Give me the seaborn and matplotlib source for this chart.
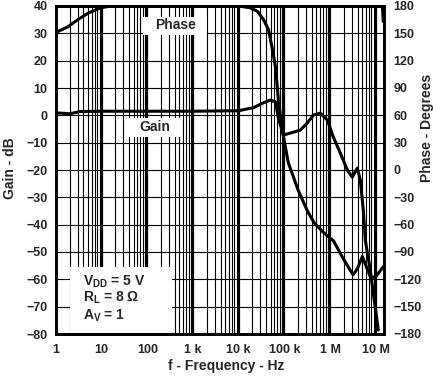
import matplotlib
matplotlib.use("Agg")
import matplotlib.pyplot as plt
from matplotlib.patches import Rectangle
import seaborn as sns
import numpy as np
import pandas as pd

# ---- data ----
gain_freq = [1, 2, 3.5, 10, 100, 1e3, 1e4, 2.1e4, 3.5e4, 4.9e4, 6.4e4, 7.4e4, 9.5e4,
             1.35e5, 2.24e5, 3.19e5, 4.31e5, 6.14e5, 8.73e5, 1.18e6, 1.68e6, 2.39e6,
             3.07e6, 3.96e6, 4.6e6, 5.35e6, 5.92e6, 7.6e6, 1.14e7]
gain_db = [0.9, 0.6, 1.4, 1.5, 1.5, 1.5, 1.7, 2.8, 4.6, 5.6, 4.9, -1.0, -7.2,
           -6.5, -5.4, -2.8, 0.1, 0.8, -1.7, -7.9, -13.8, -20.0,
           -22.6, -19.3, -23.7, -34.6, -45.6, -56.6, -78.5]

phase_freq = [1, 1.8, 3, 5, 9.4, 16, 100, 1e3, 1e4, 1.8e4, 2.6e4, 3.5e4, 4.5e4, 5.5e4,
              6.4e4, 7.4e4, 9.0e4, 1.22e5, 2.0e5, 3.2e5, 4.5e5, 7.0e5, 1.2e6, 1.7e6,
              2.4e6, 3.2e6, 4.0e6, 5.1e6, 6.0e6, 7.6e6, 9.8e6, 1.47e7]
phase_deg = [151, 157, 165, 172, 178, 180, 180, 180, 180, 178, 174, 165, 154, 132,
             113, 77, 44, 8, -22, -45, -58, -68, -78, -92,
             -105, -115, -108, -95, -104, -117, -118, -106]

phase_wrap_freq = [1.38e7, 1.42e7, 1.46e7]
phase_wrap_deg = [180, 175, 163]

xtick_vals = [1, 10, 100, 1e3, 1e4, 1e5, 1e6, 1e7]
xtick_labels = ["1", "10", "100", "1 k", "10 k", "100 k", "1 M", "10 M"]
gain_ticks = list(range(-80, 41, 10))
phase_ticks = list(range(-180, 181, 30))
cond_lines = ["V$_{DD}$ = 5 V", "R$_{L}$ = 8 $\\Omega$", "A$_{V}$ = 1"]

# ---- style ----
sns.set_style("white")
plt.rcParams["font.family"] = ["Liberation Sans", "DejaVu Sans"]
plt.rcParams["font.weight"] = "bold"
plt.rcParams["mathtext.default"] = "regular"

W, H = 436, 377
fig = plt.figure(figsize=(W / 100, H / 100), dpi=100)
ax = fig.add_axes([56 / W, 1 - 334 / H, (384 - 56) / W, (334 - 6) / H])
ax2 = ax.twinx()

ax.set_xscale("log")
ax.set_xlim(1, 1.52e7)
ax.set_ylim(-80, 40)
ax2.set_ylim(-180, 180)

ax.set_xticks(xtick_vals)
ax.set_xticklabels(xtick_labels)
ax.xaxis.set_minor_locator(matplotlib.ticker.LogLocator(base=10, subs=np.arange(2, 10), numticks=20))
ax.xaxis.set_minor_formatter(matplotlib.ticker.NullFormatter())
ax.set_yticks(gain_ticks)
ax2.set_yticks(phase_ticks)

ax.grid(True, which="major", axis="x", color="black", lw=1.6, zorder=0)
ax.grid(True, which="minor", axis="x", color="black", lw=0.8, zorder=0)
ax.grid(True, which="major", axis="y", color="black", lw=0.8, zorder=0)
ax.set_axisbelow(True)

ax.tick_params(axis="x", which="both", length=0, labelsize=9, pad=7)
ax.tick_params(axis="y", which="both", length=0, labelsize=9, pad=6)
ax2.tick_params(axis="y", length=0, labelsize=9, pad=7)
for lab in ax.get_xticklabels() + ax.get_yticklabels() + ax2.get_yticklabels():
    lab.set_fontweight("bold")

for a in (ax, ax2):
    for s in a.spines.values():
        s.set_color("black")
        s.set_linewidth(2)

# white boxes hiding the grid behind the labels
for (x0, y0, w, h) in [(0.265, 0.912, 0.195, 0.054),
                       (0.220, 0.601, 0.164, 0.058),
                       (0.043, 0.0, 0.311, 0.204)]:
    ax.add_patch(Rectangle((x0, y0), w, h, transform=ax.transAxes,
                           facecolor="white", edgecolor="none", zorder=2))

# curves
gdf = pd.DataFrame({"f": gain_freq, "g": gain_db})
pdf = pd.DataFrame({"f": phase_freq, "p": phase_deg})
wdf = pd.DataFrame({"f": phase_wrap_freq, "p": phase_wrap_deg})
sns.lineplot(data=gdf, x="f", y="g", ax=ax, color="black", lw=2.2, zorder=5, sort=False)
sns.lineplot(data=pdf, x="f", y="p", ax=ax2, color="black", lw=2.2, zorder=5, sort=False)
sns.lineplot(data=wdf, x="f", y="p", ax=ax2, color="black", lw=2.2, zorder=5, sort=False)

ax.set_xlabel("")
ax.set_ylabel("")
ax2.set_ylabel("")
fig.text(226 / W, 1 - 366 / H, "f - Frequency - Hz", fontsize=10, fontweight="bold",
         ha="center", va="center")
fig.text(10 / W, 1 - 168 / H, "Gain - dB", fontsize=10, fontweight="bold",
         ha="center", va="center", rotation=90)
fig.text(427 / W, 1 - 128 / H, "Phase - Degrees", fontsize=10, fontweight="bold",
         ha="center", va="center", rotation=90)

ax.text(0.363, 0.942, "Phase", transform=ax.transAxes, ha="center", va="center",
        fontsize=10, fontweight="bold", zorder=3)
ax.text(0.302, 0.631, "Gain", transform=ax.transAxes, ha="center", va="center",
        fontsize=10, fontweight="bold", zorder=3)
for line, yb in zip(cond_lines, [0.149, 0.0976, 0.0427]):
    ax.text(0.082, yb, line, transform=ax.transAxes, ha="left", va="baseline",
            fontsize=10, fontweight="bold", zorder=3)

fig.savefig("out.png", dpi=100)
